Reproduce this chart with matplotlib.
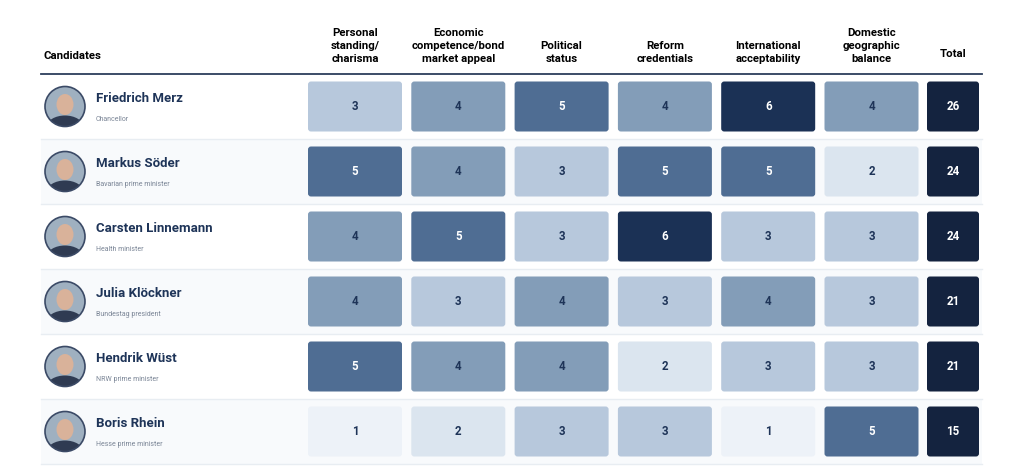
import matplotlib
matplotlib.use("Agg")
import matplotlib.pyplot as plt
from matplotlib.patches import FancyBboxPatch, Circle, Ellipse, Rectangle

plt.rcParams["font.family"] = ["Roboto", "DejaVu Sans"]

# dati
candidates = ["Friedrich Merz", "Markus Söder", "Carsten Linnemann",
              "Julia Klöckner", "Hendrik Wüst", "Boris Rhein"]
roles = ["Chancellor", "Bavarian prime minister", "Health minister",
         "Bundestag president", "NRW prime minister", "Hesse prime minister"]
criteria = ["Personal\nstanding/\ncharisma", "Economic\ncompetence/bond\nmarket appeal",
            "Political\nstatus", "Reform\ncredentials", "International\nacceptability",
            "Domestic\ngeographic\nbalance"]
personal = [3, 5, 4, 4, 5, 1]
economic = [4, 4, 5, 3, 4, 2]
political = [5, 3, 3, 4, 4, 3]
reform = [4, 5, 6, 3, 2, 3]
international = [6, 5, 3, 4, 3, 1]
domestic = [4, 2, 3, 3, 3, 5]
totals = [26, 24, 24, 21, 21, 15]

scores = [personal, economic, political, reform, international, domestic]

# colori per punteggio
SCORE_COLORS = {1: "#edf2f8", 2: "#dbe5ef", 3: "#b7c8dc", 4: "#839db8",
                5: "#4f6d93", 6: "#1b3155"}
TOTAL_COLOR = "#14233f"
NAVY = "#1e3458"

W, H = 1024, 473
fig = plt.figure(figsize=(W / 100, H / 100), dpi=100)
ax = fig.add_axes([0, 0, 1, 1])
ax.set_xlim(0, W)
ax.set_ylim(H, 0)
ax.axis("off")

# layout (pixel)
left, right = 41, 982
header_y = 74
row_h = 65
col_x0, col_step, cell_w = 308, 103.3, 94
tot_x0, tot_w = 927, 52
cell_pad = 7.5

# intestazioni
ax.text(44, 56, "Candidates", fontsize=8.2, fontweight="bold", color="black",
        ha="left", va="center")
for j, lab in enumerate(criteria):
    cx = col_x0 + j * col_step + cell_w / 2
    ax.text(cx, 64, lab, fontsize=8.2, fontweight="bold", color="black",
            ha="center", va="bottom", linespacing=1.4)
ax.text(tot_x0 + tot_w / 2, 54, "Total", fontsize=8.2, fontweight="bold",
        color="black", ha="center", va="center")
ax.plot([left, right], [header_y, header_y], color="#2c3e5c", lw=1.3)

for i, (name, role) in enumerate(zip(candidates, roles)):
    y0 = header_y + i * row_h
    if i % 2 == 1:
        ax.add_patch(Rectangle((left, y0), right - left, row_h,
                               facecolor="#f8fafc", edgecolor="none", zorder=0))
    ax.plot([left, right], [y0 + row_h, y0 + row_h], color="#e8edf2", lw=1, zorder=1)

    # avatar semplificato
    cy = y0 + row_h / 2
    clip = Circle((65, cy), 20, transform=ax.transData)
    bg = Circle((65, cy), 20, facecolor="#9fb0c0", edgecolor="none", zorder=2)
    ax.add_patch(bg)
    body = Ellipse((65, cy + 20), 36, 22, facecolor="#2f3b52", zorder=3)
    head = Ellipse((65, cy - 2), 17, 21, facecolor="#d9b29a", zorder=4)
    for p in (body, head):
        ax.add_patch(p)
        p.set_clip_path(clip)
    ax.add_patch(Circle((65, cy), 20, facecolor="none", edgecolor="#3b4a66",
                        lw=1.2, zorder=5))

    ax.text(96, y0 + 24, name, fontsize=9.5, fontweight="bold", color=NAVY,
            ha="left", va="center")
    ax.text(96, y0 + 45, role, fontsize=5, color="#7a8596",
            ha="left", va="center")

    for j, col in enumerate(scores):
        v = col[i]
        x = col_x0 + j * col_step
        ax.add_patch(FancyBboxPatch((x, y0 + cell_pad), cell_w, row_h - 2 * cell_pad,
                                    boxstyle="round,pad=0,rounding_size=3",
                                    facecolor=SCORE_COLORS[v], edgecolor="none", zorder=2))
        ax.text(x + cell_w / 2, y0 + row_h / 2, str(v), fontsize=8.3,
                fontweight="bold", color="white" if v >= 5 else NAVY,
                ha="center", va="center", zorder=3)

    ax.add_patch(FancyBboxPatch((tot_x0, y0 + cell_pad), tot_w, row_h - 2 * cell_pad,
                                boxstyle="round,pad=0,rounding_size=3",
                                facecolor=TOTAL_COLOR, edgecolor="none", zorder=2))
    ax.text(tot_x0 + tot_w / 2, y0 + row_h / 2, str(totals[i]), fontsize=8.3,
            fontweight="bold", color="white", ha="center", va="center", zorder=3)

fig.savefig("out.png", dpi=100, facecolor="white")
